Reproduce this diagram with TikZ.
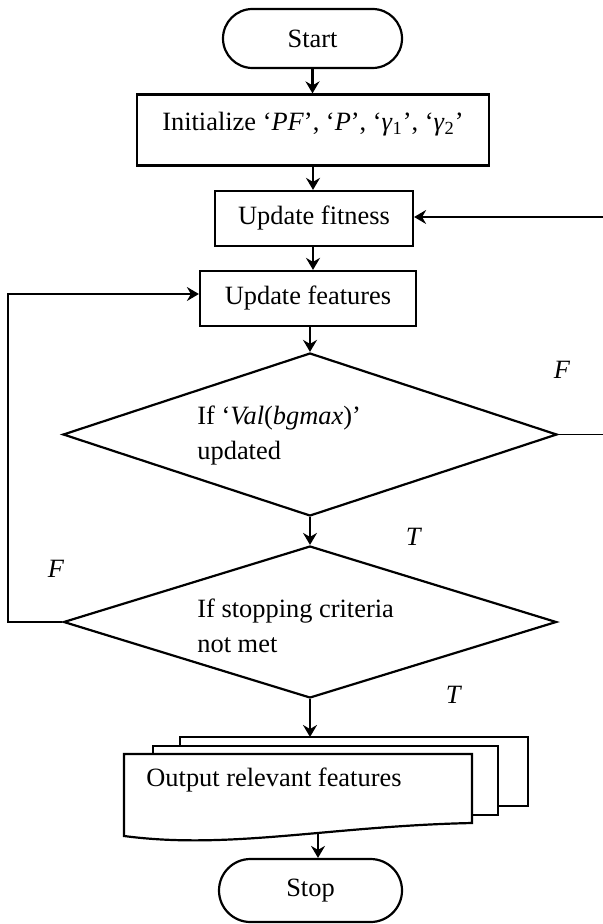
\documentclass[tikz,border=0pt]{standalone}
\usepackage{fontspec}
\setmainfont{Liberation Serif}
\usetikzlibrary{shapes.geometric,shapes.misc,arrows.meta}
\newcommand{\itv}[1]{\textit{#1}}
\begin{document}
\begin{tikzpicture}[x=0.5pt,y=-0.5pt,
  every node/.style={font=\fontsize{13.2}{17.5}\selectfont},
  box/.style={draw,line width=1.1pt,rectangle,inner sep=0pt,minimum height=27.5pt},
  term/.style={draw,line width=1.1pt,rounded rectangle,inner sep=0pt},
  dia/.style={draw,line width=1.1pt,diamond,inner sep=0pt},
  arr/.style={line width=1.1pt,-{Stealth[length=6pt,width=7pt,inset=2pt]}},
  loopline/.style={line width=0.9pt,-{Stealth[length=6pt,width=7pt,inset=2pt]}},
  lbl/.style={inner sep=0pt},
  doc/.style={draw,line width=1.1pt,fill=white}
]
\useasboundingbox (0,0) rectangle (602,924);

% terminals and boxes
\node[term,minimum width=89.5pt,minimum height=29.5pt] (start) at (312.5,38.5) {Start};
\node[box,minimum width=176pt,minimum height=35.5pt] (init) at (313,130) {};
\node[lbl] (initt) at (313,124) {Initialize ‘\itv{PF}’, ‘\itv{P}’, ‘\itv{γ}\textsubscript{1}’, ‘\itv{γ}\textsubscript{2}’};
\node[box,minimum width=99pt] (fit) at (314,218.5) {Update fitness};
\node[box,minimum width=108pt] (feat) at (308,298.5) {Update features};

% decisions
\node[dia,minimum width=247pt,minimum height=81.5pt] (d1) at (310,434.5) {};
\node[lbl,align=left,anchor=west] (d1t) at (197,435.5) {If ‘\itv{Val}(\itv{bgmax})’\\updated};
\node[dia,minimum width=246.5pt,minimum height=76pt] (d2) at (310,622) {};
\node[lbl,align=left,anchor=west] (d2t) at (197,625.5) {If stopping criteria\\not met};

% multi-document
\draw[doc] (180,737) rectangle (528,806);
\draw[doc] (153,746) rectangle (498,815);
\draw[doc] (124,754) -- (472,754) -- (472,823) .. controls (330,826) and (230,850) .. (124,836) -- cycle;
\node[lbl,anchor=west] (out) at (146,780) {Output relevant features};
\coordinate (doctop) at (310,737);
\coordinate (docbot) at (318,832);

\node[term,minimum width=91.5pt,minimum height=31.5pt] (stop) at (310.5,890.5) {Stop};

% main flow
\draw[arr] (start.south) -- (start.south |- init.north);
\draw[arr] (init.south) -- (init.south |- fit.north);
\draw[arr] (fit.south -| init.south) -- (init.south |- feat.north);
\draw[arr] (feat.south -| d1.north) -- (d1.north);
\draw[arr] (d1.south) -- (d2.north);
\draw[arr] (d2.south) -- (doctop);
\draw[arr] (docbot) -- (docbot |- stop.north);

% loops
\coordinate (rc) at (607,217);
\draw[loopline] (d1.east) -- (d1.east -| rc) -- (rc) -- (rc -| fit.east);
\coordinate (lc) at (8,294);
\draw[loopline] (d2.west) -- (d2.west -| lc) -- (lc) -- (lc -| feat.west);

% labels
\node[lbl] (f1) at (562,370) {\itv{F}};
\node[lbl] (t1) at (414,537) {\itv{T}};
\node[lbl] (f2) at (56,569) {\itv{F}};
\node[lbl] (t2) at (454,695) {\itv{T}};
\end{tikzpicture}
\end{document}
